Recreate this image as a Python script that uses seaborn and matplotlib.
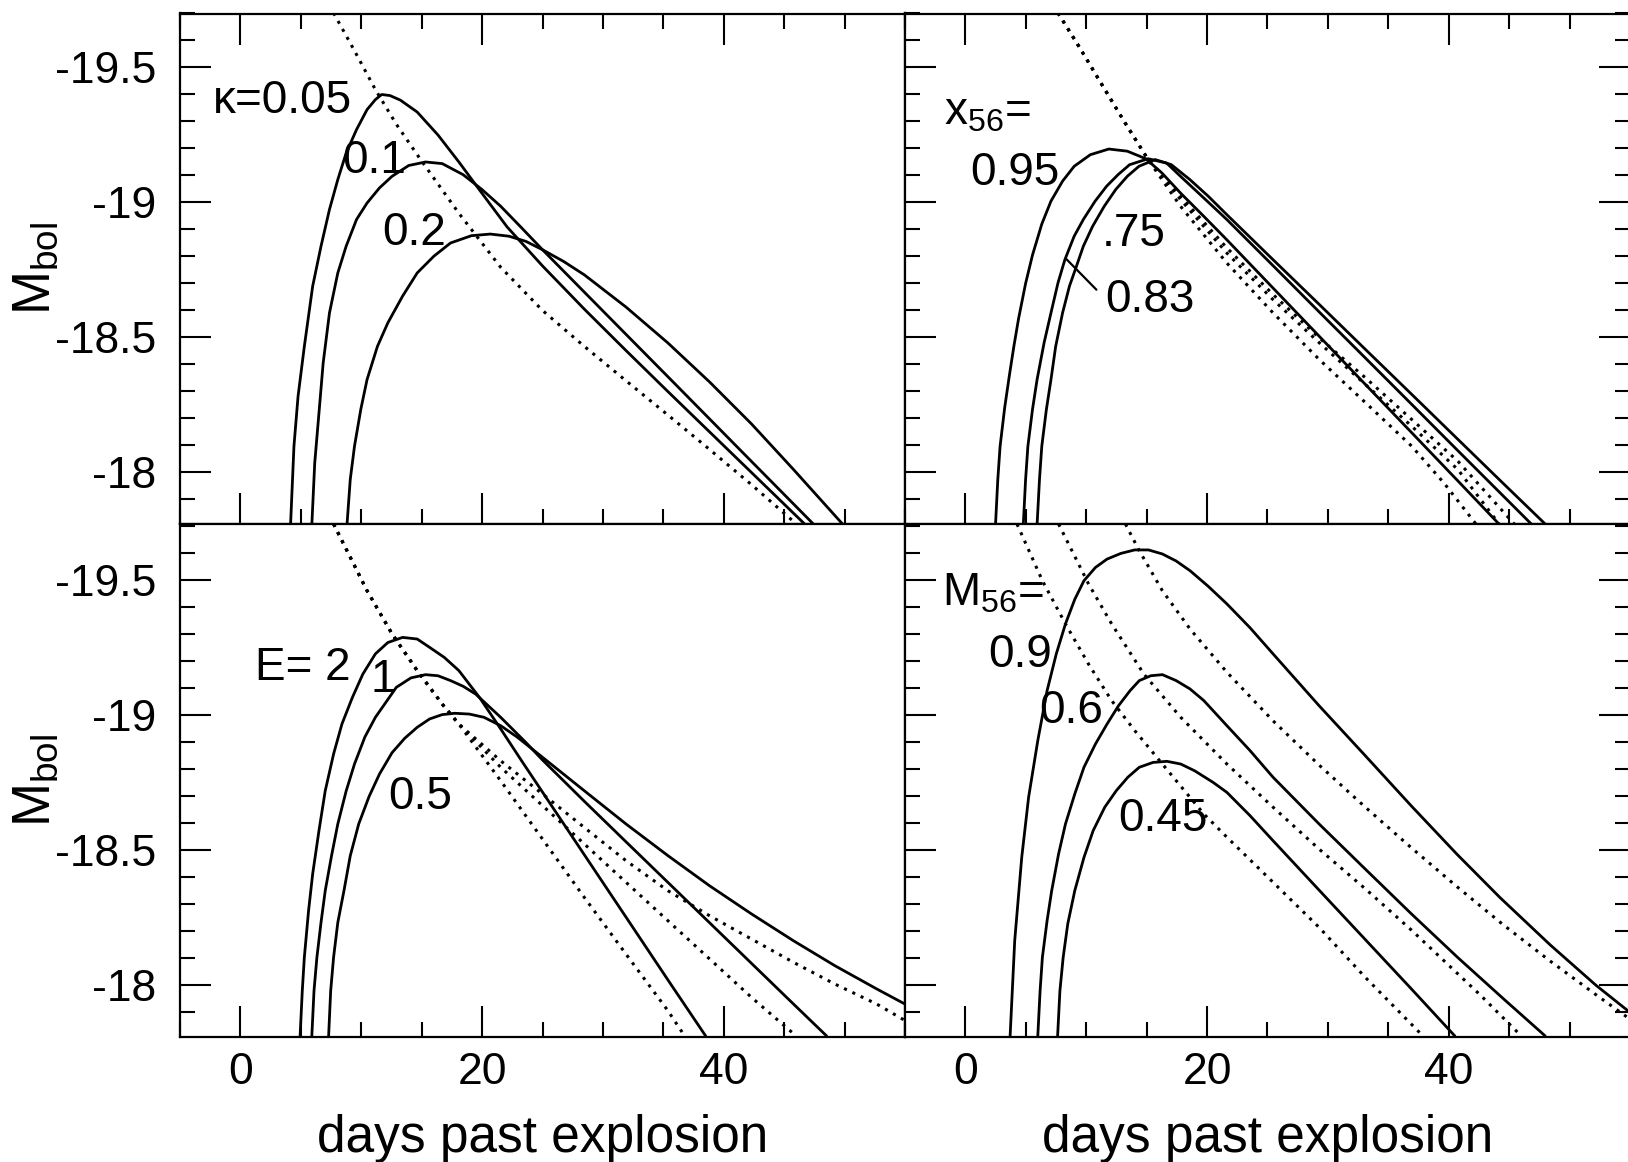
import matplotlib
matplotlib.use("Agg")
import matplotlib.pyplot as plt
from matplotlib.ticker import MultipleLocator, FixedLocator, FixedFormatter
import seaborn as sns

# ---------------- data ----------------
x_major = [0, 20, 40]
x_major_labels = ["0", "20", "40"]
y_major = [-19.5, -19.0, -18.5, -18.0]
y_major_labels = ["-19.5", "-19", "-18.5", "-18"]

# Top-left: opacity kappa
k005_day = [4.15, 4.43, 4.77, 5.29, 5.98, 6.67, 7.37, 8.06, 8.75, 9.61, 10.48, 11.17, 11.69, 12.38, 13.24, 14.63, 16.35, 18.08, 19.81, 22.06, 25.0, 28.46, 31.9, 35.37, 38.83, 42.29, 46.9]
k005_mag = [-17.806, -18.097, -18.282, -18.467, -18.69, -18.838, -18.974, -19.085, -19.183, -19.27, -19.344, -19.381, -19.40, -19.396, -19.379, -19.335, -19.25, -19.15, -19.045, -18.91, -18.765, -18.605, -18.452, -18.30, -18.15, -18.0, -17.80]
k01_day = [5.91, 6.15, 6.50, 6.85, 7.37, 8.06, 8.75, 9.61, 10.48, 11.51, 12.55, 13.93, 15.32, 16.7, 18.43, 19.99, 21.54, 23.27, 25.0, 28.46, 31.9, 35.37, 38.83, 42.29, 47.48]
k01_mag = [-17.806, -18.035, -18.22, -18.406, -18.591, -18.739, -18.838, -18.937, -18.998, -19.054, -19.097, -19.137, -19.15, -19.144, -19.103, -19.048, -18.986, -18.906, -18.825, -18.668, -18.512, -18.355, -18.198, -18.041, -17.806]
k02_day = [8.82, 9.09, 9.44, 9.96, 10.48, 11.34, 12.2, 13.42, 14.63, 16.01, 17.39, 19.12, 20.68, 22.23, 23.62, 25.0, 26.73, 28.46, 31.9, 35.37, 38.83, 42.29, 45.75, 49.89]
k02_mag = [-17.806, -17.974, -18.097, -18.233, -18.344, -18.467, -18.554, -18.653, -18.739, -18.801, -18.85, -18.877, -18.883, -18.875, -18.856, -18.825, -18.782, -18.732, -18.613, -18.48, -18.335, -18.18, -18.012, -17.806]
kdot_day = [7.71, 9.44, 11.17, 12.9, 14.97, 18.08, 21.54, 25.0, 28.46, 31.9, 35.37, 38.83, 42.29, 46.09]
kdot_mag = [-19.702, -19.562, -19.418, -19.29, -19.155, -18.96, -18.76, -18.60, -18.467, -18.34, -18.213, -18.085, -17.955, -17.806]

# Top-right: 56Ni mass fraction x56
x095_day = [2.49, 2.68, 2.87, 3.25, 3.64, 4.02, 4.40, 4.98, 5.55, 6.32, 7.08, 8.04, 9.0, 10.34, 11.87, 13.4, 14.93, 16.27, 17.80, 19.72, 21.63, 25.46, 29.29, 33.12, 36.94, 40.77, 44.22]
x095_mag = [-17.806, -17.974, -18.097, -18.24, -18.36, -18.47, -18.57, -18.70, -18.805, -18.92, -19.005, -19.079, -19.134, -19.177, -19.198, -19.19, -19.162, -19.109, -19.035, -18.949, -18.862, -18.683, -18.504, -18.325, -18.147, -17.968, -17.806]
x083_day = [4.79, 4.98, 5.17, 5.55, 5.93, 6.51, 7.08, 7.66, 8.23, 9.0, 9.76, 10.72, 11.68, 12.63, 13.59, 15.12, 16.65, 17.80, 19.72, 21.63, 25.46, 29.29, 33.12, 36.94, 40.77, 46.9]
x083_mag = [-17.806, -17.974, -18.097, -18.233, -18.344, -18.48, -18.591, -18.702, -18.788, -18.875, -18.937, -19.004, -19.06, -19.103, -19.14, -19.162, -19.146, -19.097, -19.017, -18.937, -18.766, -18.594, -18.423, -18.252, -18.08, -17.806]
x075_day = [5.93, 6.13, 6.32, 6.70, 7.08, 7.47, 8.04, 8.61, 9.19, 9.76, 10.53, 11.49, 12.44, 13.4, 14.36, 15.70, 17.04, 18.57, 20.1, 21.63, 25.46, 29.29, 33.12, 36.94, 40.77, 44.4, 48.05]
x075_mag = [-17.806, -17.974, -18.097, -18.233, -18.344, -18.467, -18.591, -18.69, -18.764, -18.838, -18.912, -18.986, -19.048, -19.097, -19.134, -19.159, -19.14, -19.085, -19.023, -18.955, -18.788, -18.622, -18.455, -18.289, -18.122, -17.964, -17.806]
xd1_day = [7.66, 9.38, 11.29, 13.21, 15.12, 17.80, 21.63, 25.46, 29.29, 33.12, 36.94, 39.62, 42.3]
xd1_mag = [-19.702, -19.579, -19.437, -19.295, -19.159, -18.986, -18.776, -18.591, -18.418, -18.258, -18.097, -17.96, -17.806]
xd2_day = [7.66, 9.38, 11.29, 13.21, 15.12, 17.80, 21.63, 25.46, 29.29, 33.12, 36.94, 40.77, 44.22]
xd2_mag = [-19.702, -19.579, -19.437, -19.295, -19.159, -19.011, -18.813, -18.64, -18.48, -18.325, -18.171, -18.01, -17.806]
xd3_day = [7.66, 9.38, 11.29, 13.21, 15.12, 17.80, 21.63, 25.46, 29.29, 33.12, 36.94, 40.77, 45.48]
xd3_mag = [-19.702, -19.579, -19.437, -19.295, -19.159, -19.023, -18.832, -18.659, -18.498, -18.35, -18.196, -18.041, -17.806]

# Bottom-left: explosion energy E
e2_day = [4.94, 5.12, 5.29, 5.64, 5.98, 6.5, 7.02, 7.71, 8.40, 9.27, 10.13, 11.17, 12.2, 13.42, 14.63, 15.66, 16.87, 18.08, 19.81, 21.54, 23.27, 25.0, 28.46, 31.91, 35.37, 38.5]
e2_mag = [-17.813, -17.98, -18.104, -18.277, -18.413, -18.573, -18.721, -18.857, -18.968, -19.067, -19.153, -19.228, -19.27, -19.289, -19.283, -19.252, -19.215, -19.166, -19.065, -18.95, -18.832, -18.716, -18.484, -18.253, -18.021, -17.813]
e1_day = [5.91, 6.09, 6.33, 6.67, 7.02, 7.54, 8.06, 8.75, 9.44, 10.3, 11.17, 12.03, 12.9, 14.11, 15.32, 16.35, 17.39, 18.43, 19.47, 21.54, 23.62, 25.0, 28.46, 31.91, 35.37, 38.83, 42.29, 45.75, 48.51]
e1_mag = [-17.813, -17.98, -18.104, -18.233, -18.351, -18.48, -18.598, -18.72, -18.82, -18.92, -18.993, -19.048, -19.104, -19.139, -19.151, -19.147, -19.129, -19.108, -19.079, -18.993, -18.9, -18.835, -18.682, -18.532, -18.382, -18.232, -18.082, -17.932, -17.813]
e05_day = [7.30, 7.47, 7.71, 8.06, 8.57, 9.09, 9.79, 10.65, 11.51, 12.55, 13.59, 14.63, 15.66, 16.7, 17.74, 18.95, 20.16, 21.54, 22.93, 25.0, 28.46, 31.91, 35.37, 38.83, 42.29, 45.75, 49.2, 52.66, 55.0]
e05_mag = [-17.813, -17.98, -18.104, -18.233, -18.351, -18.48, -18.598, -18.70, -18.783, -18.862, -18.915, -18.956, -18.987, -19.003, -19.008, -19.005, -18.993, -18.962, -18.919, -18.845, -18.721, -18.598, -18.481, -18.369, -18.265, -18.166, -18.073, -17.987, -17.931]
de2_day = [7.71, 9.09, 10.48, 12.55, 14.63, 16.7, 18.08, 21.54, 25.0, 28.46, 31.91, 35.37, 36.76]
de2_mag = [-19.709, -19.586, -19.462, -19.302, -19.166, -19.042, -18.968, -18.758, -18.542, -18.326, -18.116, -17.907, -17.813]
de1_day = [7.71, 9.09, 10.48, 12.55, 14.63, 16.7, 18.08, 21.54, 25.0, 28.46, 31.91, 35.37, 38.83, 42.29, 45.99]
de1_mag = [-19.709, -19.586, -19.462, -19.302, -19.166, -19.042, -18.968, -18.808, -18.666, -18.524, -18.382, -18.24, -18.098, -17.956, -17.813]
de05_day = [7.71, 9.09, 10.48, 12.55, 14.63, 16.7, 18.08, 21.54, 25.0, 28.46, 31.91, 35.37, 38.83, 42.29, 45.75, 49.2, 52.66, 55.0]
de05_mag = [-19.709, -19.586, -19.462, -19.302, -19.166, -19.042, -18.968, -18.832, -18.709, -18.585, -18.462, -18.351, -18.258, -18.172, -18.086, -18.005, -17.931, -17.87]

# Bottom-right: 56Ni mass M56
m09_day = [3.70, 4.08, 4.66, 5.23, 5.99, 6.76, 7.52, 8.28, 9.05, 9.81, 10.76, 11.72, 12.86, 14.01, 15.15, 16.30, 17.44, 18.59, 20.1, 21.64, 23.55, 25.46, 29.27, 33.09, 36.9, 40.7, 44.25, 48.4, 52.2, 55.0]
m09_mag = [-17.813, -18.166, -18.474, -18.697, -18.907, -19.092, -19.228, -19.339, -19.43, -19.499, -19.548, -19.579, -19.60, -19.613, -19.613, -19.598, -19.572, -19.536, -19.478, -19.413, -19.325, -19.228, -19.036, -18.851, -18.665, -18.485, -18.325, -18.15, -18.0, -17.9]
m06_day = [5.99, 6.18, 6.37, 6.76, 7.14, 7.71, 8.28, 9.05, 9.81, 10.76, 11.72, 12.67, 13.63, 14.39, 15.34, 16.3, 17.44, 18.59, 19.73, 21.64, 23.55, 25.46, 29.27, 33.09, 36.91, 40.73, 44.54, 47.98]
m06_mag = [-17.813, -17.98, -18.104, -18.24, -18.351, -18.487, -18.598, -18.709, -18.808, -18.894, -18.968, -19.036, -19.092, -19.129, -19.147, -19.151, -19.129, -19.098, -19.055, -18.962, -18.87, -18.771, -18.598, -18.431, -18.265, -18.104, -17.95, -17.813]
m045_day = [7.63, 7.82, 8.09, 8.47, 9.05, 9.81, 10.57, 11.53, 12.48, 13.44, 14.39, 15.53, 16.68, 17.82, 18.97, 20.5, 21.64, 23.55, 25.46, 29.27, 33.09, 36.91, 40.5]
m045_mag = [-17.813, -17.98, -18.104, -18.228, -18.351, -18.474, -18.573, -18.66, -18.721, -18.771, -18.808, -18.826, -18.83, -18.82, -18.795, -18.752, -18.715, -18.629, -18.536, -18.353, -18.17, -17.987, -17.813]
md09_day = [13.24, 14.39, 16.30, 18.59, 21.64, 25.46, 29.3, 33.1, 36.9, 40.7, 44.5, 48.4, 52.2, 55.0]
md09_mag = [-19.709, -19.61, -19.462, -19.32, -19.16, -18.98, -18.815, -18.66, -18.51, -18.365, -18.225, -18.09, -17.965, -17.875]
md06_day = [7.71, 10.19, 12.1, 14.77, 17.82, 21.64, 25.46, 29.27, 33.09, 36.91, 42.6, 46.0]
md06_mag = [-19.709, -19.487, -19.339, -19.153, -18.993, -18.82, -18.66, -18.505, -18.358, -18.205, -17.965, -17.813]
md045_day = [4.27, 6.37, 8.28, 10.19, 12.1, 14.01, 16.30, 19.73, 21.64, 25.46, 29.27, 33.09, 37.86]
md045_mag = [-19.709, -19.499, -19.339, -19.19, -19.055, -18.944, -18.82, -18.635, -18.549, -18.382, -18.215, -18.03, -17.813]

# ---------------- style ----------------
sns.set_style("ticks")
plt.rcParams["font.family"] = ["Liberation Sans", "DejaVu Sans"]
plt.rcParams["mathtext.fontset"] = "custom"
plt.rcParams["mathtext.rm"] = "Liberation Sans"
plt.rcParams["mathtext.it"] = "Liberation Sans:italic"
plt.rcParams["axes.unicode_minus"] = False
for key in ("text.color", "axes.labelcolor", "xtick.color", "ytick.color",
            "axes.edgecolor", "xtick.labelcolor", "ytick.labelcolor"):
    plt.rcParams[key] = "black"

W, H = 1628, 1162
fig = plt.figure(figsize=(W / 100, H / 100), dpi=100)
fig.patch.set_facecolor("white")

def frac_x(px):
    return px / W

def frac_y(px):
    return 1 - px / H

left0, mid, right1 = 180, 905, 1630
top0, hmid, bot1 = 13.5, 524, 1037

ax_tl = fig.add_axes([frac_x(left0), frac_y(hmid), frac_x(mid - left0), (hmid - top0) / H])
ax_tr = fig.add_axes([frac_x(mid), frac_y(hmid), frac_x(right1 - mid), (hmid - top0) / H])
ax_bl = fig.add_axes([frac_x(left0), frac_y(bot1), frac_x(mid - left0), (bot1 - hmid) / H])
ax_br = fig.add_axes([frac_x(mid), frac_y(bot1), frac_x(right1 - mid), (bot1 - hmid) / H])

SOLID_LW = 2.0
DOT_LW = 2.2
DOT = (0, (1, 2.0))

def draw(ax, curves):
    for d, m, kind in curves:
        ls = "-" if kind == "solid" else DOT
        lw = SOLID_LW if kind == "solid" else DOT_LW
        sns.lineplot(x=d, y=m, ax=ax, color="black", linewidth=lw, linestyle=ls,
                     estimator=None, sort=False, legend=False)

draw(ax_tl, [(k005_day, k005_mag, "solid"), (k01_day, k01_mag, "solid"),
             (k02_day, k02_mag, "solid"), (kdot_day, kdot_mag, "dot")])
draw(ax_tr, [(x095_day, x095_mag, "solid"), (x083_day, x083_mag, "solid"),
             (x075_day, x075_mag, "solid"), (xd1_day, xd1_mag, "dot"),
             (xd2_day, xd2_mag, "dot"), (xd3_day, xd3_mag, "dot")])
draw(ax_bl, [(e2_day, e2_mag, "solid"), (e1_day, e1_mag, "solid"),
             (e05_day, e05_mag, "solid"), (de2_day, de2_mag, "dot"),
             (de1_day, de1_mag, "dot"), (de05_day, de05_mag, "dot")])
draw(ax_br, [(m09_day, m09_mag, "solid"), (m06_day, m06_mag, "solid"),
             (m045_day, m045_mag, "solid"), (md09_day, md09_mag, "dot"),
             (md06_day, md06_mag, "dot"), (md045_day, md045_mag, "dot")])

TICK_FS = 32
for ax, is_top, is_left in [(ax_tl, True, True), (ax_tr, True, False),
                            (ax_bl, False, True), (ax_br, False, False)]:
    ax.set_xlim(-5, 55)
    if is_top:
        ax.set_ylim(-17.809, -19.70)
    else:
        ax.set_ylim(-17.809, -19.709)
    ax.xaxis.set_major_locator(FixedLocator(x_major))
    ax.xaxis.set_major_formatter(FixedFormatter(x_major_labels))
    ax.xaxis.set_minor_locator(MultipleLocator(5))
    ax.yaxis.set_major_locator(FixedLocator(y_major))
    ax.yaxis.set_major_formatter(FixedFormatter(y_major_labels))
    ax.yaxis.set_minor_locator(MultipleLocator(0.1))
    for sp in ax.spines.values():
        sp.set_linewidth(1.6)
        sp.set_color("black")
    ax.tick_params(axis="both", which="both", direction="in", width=1.5, color="black",
                   labelcolor="black",
                   top=is_top, bottom=True, left=True, right=not is_left,
                   labelleft=is_left, labelbottom=not is_top, labeltop=False, labelright=False)
    ax.tick_params(axis="both", which="major", length=22)
    ax.tick_params(axis="both", which="minor", length=10.5)
    ax.tick_params(axis="x", which="major", labelsize=TICK_FS, pad=11)
    ax.tick_params(axis="y", which="major", labelsize=TICK_FS, pad=17)
    ax.set_xlabel("")
    ax.set_ylabel("")
    ax.set_facecolor("white")

# axis labels
for ax in (ax_bl, ax_br):
    ax.set_xlabel("days past explosion", fontsize=37, color="black")
    ax.xaxis.set_label_coords(0.5, (bot1 - 1152) / (bot1 - hmid))
    ax.xaxis.label.set_verticalalignment("baseline")
for ax in (ax_tl, ax_bl):
    ax.set_ylabel(r"$\mathregular{M_{bol}}$", fontsize=38, color="black")
    ax.yaxis.set_label_coords((50 - left0) / (mid - left0), 0.5)
    ax.yaxis.label.set_verticalalignment("baseline")

# annotations
ANN_FS = 33
txt = dict(fontsize=ANN_FS, ha="left", va="baseline", color="black")
ax_tl.text(-2.27, -19.33, "κ=0.05", **txt)
ax_tl.text(8.4, -19.109, "0.1", **txt)
ax_tl.text(11.7, -18.844, "0.2", **txt)

ax_tr.text(-1.74, -19.287, r"$\mathregular{x_{56}}$=", **txt)
ax_tr.text(0.43, -19.065, "0.95", **txt)
ax_tr.text(11.29, -18.837, ".75", **txt)
ax_tr.text(11.56, -18.593, "0.83", **txt)
ax_tr.annotate("", xy=(8.36, -18.79), xytext=(10.84, -18.677),
               arrowprops=dict(arrowstyle="-", lw=1.6, color="black", shrinkA=0, shrinkB=0))

ax_bl.text(1.2, -19.13, "E= 2", **txt)
ax_bl.text(10.8, -19.086, "1", **txt)
ax_bl.text(12.2, -18.654, "0.5", **txt)

ax_br.text(-1.95, -19.407, r"$\mathregular{M_{56}}$=", **txt)
ax_br.text(1.87, -19.179, "0.9", **txt)
ax_br.text(6.07, -18.971, "0.6", **txt)
ax_br.text(12.67, -18.573, "0.45", **txt)

fig.savefig("out.png", dpi=100, facecolor="white")
